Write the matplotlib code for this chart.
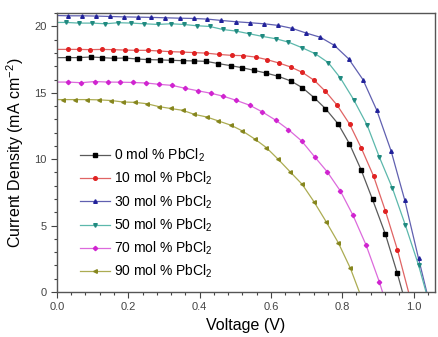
import matplotlib
matplotlib.use("Agg")
import matplotlib.pyplot as plt
from matplotlib.ticker import MultipleLocator

plt.rcParams['font.family'] = ['Liberation Sans', 'DejaVu Sans']
plt.rcParams['mathtext.default'] = 'regular'

# voltage (V) / current density (mA cm^-2)
v_0 = [0.0, 0.03, 0.062, 0.095, 0.127, 0.159, 0.191, 0.224, 0.256, 0.288, 0.32, 0.353, 0.385,
       0.418, 0.453, 0.488, 0.52, 0.553, 0.586, 0.621, 0.656, 0.688, 0.721, 0.753, 0.788,
       0.82, 0.853, 0.885, 0.921, 0.954, 0.969]
j_0 = [17.65, 17.65, 17.65, 17.7, 17.65, 17.6, 17.62, 17.55, 17.5, 17.48, 17.45, 17.42, 17.4,
       17.37, 17.2, 17.04, 16.89, 16.69, 16.49, 16.24, 15.89, 15.39, 14.64, 13.81, 12.68,
       11.18, 9.2, 6.97, 4.36, 1.45, 0.0]

v_10 = [0.0, 0.03, 0.062, 0.094, 0.126, 0.158, 0.19, 0.222, 0.254, 0.286, 0.318, 0.35, 0.384,
        0.418, 0.455, 0.49, 0.523, 0.558, 0.589, 0.623, 0.656, 0.688, 0.722, 0.753, 0.786,
        0.821, 0.854, 0.888, 0.921, 0.955, 0.986]
j_10 = [18.27, 18.27, 18.27, 18.25, 18.27, 18.25, 18.22, 18.2, 18.2, 18.15, 18.1, 18.07, 18.03,
        17.99, 17.89, 17.82, 17.8, 17.69, 17.5, 17.24, 16.94, 16.54, 15.93, 15.11, 14.06,
        12.63, 10.81, 8.72, 6.11, 3.16, 0.0]

v_30 = [0.0, 0.032, 0.071, 0.109, 0.148, 0.187, 0.226, 0.265, 0.304, 0.344, 0.383, 0.422,
        0.461, 0.503, 0.541, 0.58, 0.62, 0.66, 0.699, 0.739, 0.778, 0.818, 0.858, 0.897,
        0.937, 0.975, 1.014, 1.037]
j_30 = [20.82, 20.8, 20.8, 20.78, 20.75, 20.72, 20.7, 20.68, 20.65, 20.62, 20.6, 20.55,
        20.45, 20.35, 20.28, 20.2, 20.08, 19.85, 19.5, 19.18, 18.57, 17.56, 16.0, 13.68,
        10.63, 6.95, 2.53, 0.0]

v_50 = [0.0, 0.026, 0.062, 0.099, 0.136, 0.172, 0.209, 0.245, 0.282, 0.319, 0.355, 0.392,
        0.428, 0.465, 0.502, 0.539, 0.576, 0.614, 0.649, 0.687, 0.724, 0.761, 0.795, 0.832,
        0.87, 0.904, 0.941, 0.977, 1.014, 1.035]
j_50 = [20.3, 20.3, 20.25, 20.25, 20.2, 20.28, 20.25, 20.2, 20.15, 20.2, 20.15, 20.05,
        20.0, 19.77, 19.65, 19.45, 19.25, 19.07, 18.82, 18.4, 17.95, 17.27, 16.11, 14.49,
        12.56, 10.17, 7.8, 5.04, 2.03, 0.0]

v_70 = [0.0, 0.032, 0.068, 0.106, 0.143, 0.178, 0.213, 0.25, 0.286, 0.323, 0.358, 0.396,
        0.433, 0.467, 0.502, 0.541, 0.576, 0.614, 0.649, 0.686, 0.723, 0.758, 0.795, 0.83,
        0.867, 0.904, 0.913]
j_70 = [15.81, 15.81, 15.76, 15.85, 15.81, 15.8, 15.78, 15.74, 15.64, 15.56, 15.35, 15.15,
        14.96, 14.74, 14.44, 14.06, 13.56, 12.93, 12.23, 11.38, 10.17, 9.05, 7.6, 5.79,
        3.53, 0.77, 0.0]

v_90 = [0.0, 0.018, 0.051, 0.085, 0.118, 0.152, 0.185, 0.219, 0.252, 0.286, 0.319, 0.353,
        0.385, 0.42, 0.453, 0.488, 0.52, 0.556, 0.587, 0.621, 0.654, 0.688, 0.721, 0.755,
        0.789, 0.823, 0.848]
j_90 = [14.49, 14.49, 14.49, 14.49, 14.47, 14.42, 14.31, 14.28, 14.18, 13.96, 13.82, 13.68,
        13.38, 13.18, 12.88, 12.56, 12.13, 11.5, 10.88, 9.98, 9.05, 8.1, 6.79, 5.29,
        3.71, 1.78, 0.0]

labels = ['0 mol % PbCl$_2$', '10 mol % PbCl$_2$', '30 mol % PbCl$_2$',
          '50 mol % PbCl$_2$', '70 mol % PbCl$_2$', '90 mol % PbCl$_2$']
series = [(v_0, j_0), (v_10, j_10), (v_30, j_30), (v_50, j_50), (v_70, j_70), (v_90, j_90)]

line_colors = ['#5a5a5a', '#e06464', '#6060b0', '#5cb8ac', '#dc6adc', '#acac52']
mark_colors = ['#000000', '#e02222', '#22229a', '#208a80', '#d024d0', '#86861e']
markers = ['s', 'o', '^', 'v', 'D', '<']

fig = plt.figure(figsize=(4.38, 3.37), dpi=100)
ax = fig.add_axes([0.130, 0.1335, 0.863, 0.8275])

for (v, j), lab, lc, mc, mk in zip(series, labels, line_colors, mark_colors, markers):
    ax.plot(v, j, color=lc, lw=0.9, marker=mk, ms=2.6 if mk != 'D' else 2.2,
            mfc=mc, mec=mc, markevery=slice(1, len(v) - 1), label=lab)

ax.set_xlim(0, 1.06)
ax.set_ylim(0, 21)
ax.xaxis.set_major_locator(MultipleLocator(0.2))
ax.xaxis.set_minor_locator(MultipleLocator(0.04))
ax.yaxis.set_major_locator(MultipleLocator(5))
ax.yaxis.set_minor_locator(MultipleLocator(1))
ax.xaxis.set_major_formatter(plt.FormatStrFormatter('%.1f'))

ax.tick_params(which='both', direction='out', top=False, right=False,
               colors='#444444', labelsize=8, width=0.8)
ax.tick_params(which='major', length=4)
ax.tick_params(which='minor', length=2.5)
for s in ax.spines.values():
    s.set_color('#555555')
    s.set_linewidth(1.0)

ax.set_xlabel('Voltage (V)', fontsize=11.5, labelpad=4)
ax.set_ylabel('Current Density (mA cm$^{-2}$)', fontsize=11.5, labelpad=6)

ax.legend(loc='center left', bbox_to_anchor=(0.06, 0.281), frameon=False,
          fontsize=10, handlelength=2.2, handletextpad=0.3, labelspacing=0.42,
          borderpad=0, borderaxespad=0)

fig.savefig('out.png', dpi=100)
